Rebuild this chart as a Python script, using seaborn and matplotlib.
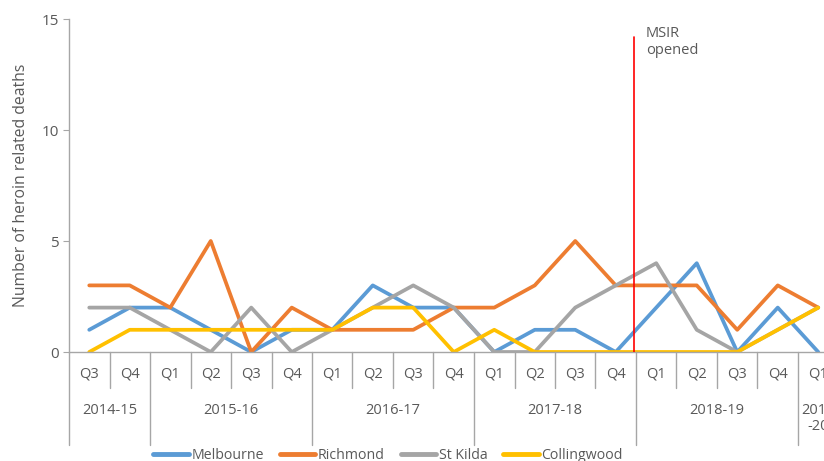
import numpy as np
import pandas as pd
import matplotlib
matplotlib.use("Agg")
import matplotlib.pyplot as plt
import matplotlib.transforms as mtransforms
import seaborn as sns

# quarters along the x axis, grouped by financial year
quarters = ["Q3", "Q4",
            "Q1", "Q2", "Q3", "Q4",
            "Q1", "Q2", "Q3", "Q4",
            "Q1", "Q2", "Q3", "Q4",
            "Q1", "Q2", "Q3", "Q4",
            "Q1"]
years = ["2014-15", "2015-16", "2016-17", "2017-18", "2018-19", "2019\n-20"]
year_sizes = [2, 4, 4, 4, 4, 1]

melbourne = [1, 2, 2, 1, 0, 1, 1, 3, 2, 2, 0, 1, 1, 0, 2, 4, 0, 2, 0]
richmond = [3, 3, 2, 5, 0, 2, 1, 1, 1, 2, 2, 3, 5, 3, 3, 3, 1, 3, 2]
st_kilda = [2, 2, 1, 0, 2, 0, 1, 2, 3, 2, 0, 0, 2, 3, 4, 1, 0, 1, 2]
collingwood = [0, 1, 1, 1, 1, 1, 1, 2, 2, 0, 1, 0, 0, 0, 0, 0, 0, 1, 2]

series = {"Melbourne": melbourne, "Richmond": richmond,
          "St Kilda": st_kilda, "Collingwood": collingwood}
colors = ["#5B9BD5", "#ED7D31", "#A5A5A5", "#FFC000"]

rows = []
for name, vals in series.items():
    for i, v in enumerate(vals):
        rows.append({"idx": i, "deaths": v, "suburb": name})
df = pd.DataFrame(rows)

sns.set_style("white")
plt.rcParams['font.family'] = ['Open Sans', 'DejaVu Sans']
txt = "#595959"
axc = "#A6A6A6"

fig = plt.figure(figsize=(8.24, 4.61), dpi=100)
ax = fig.add_axes([69 / 824, 1 - 352 / 461, (838.5 - 69) / 824, 333 / 461])

sns.lineplot(data=df, x="idx", y="deaths", hue="suburb", palette=colors,
             linewidth=2.7, ax=ax, legend=True)

n = len(quarters)
ax.set_xlim(-0.5, n - 0.5)
ax.set_ylim(0, 15)
ax.set_yticks([0, 5, 10, 15])
ax.tick_params(axis="y", colors=txt, labelsize=11, length=4, width=0.8,
               direction="out", left=True, color=axc)
ax.set_xticks([])
ax.set_xlabel("")
ax.set_ylabel("Number of heroin related deaths", color=txt, fontsize=11.3)
ax.yaxis.set_label_coords(-0.052, 0.5)
for s in ["top", "right"]:
    ax.spines[s].set_visible(False)
ax.spines["left"].set_color(axc)
ax.spines["bottom"].set_color(axc)
ax.spines["left"].set_linewidth(1)
ax.spines["bottom"].set_linewidth(1)

# MSIR opened marker
ax.plot([13.45, 13.45], [0, 14.2], color="#FF0000", linewidth=1.2, zorder=5)
ax.text(13.75, 14.7, "MSIR\nopened", color=txt, fontsize=10.5, va="top", ha="left")

# multi-level category axis
trans = mtransforms.blended_transform_factory(ax.transData, ax.transAxes)
for i, q in enumerate(quarters):
    ax.text(i, -0.065, q, transform=trans, ha="center", va="center",
            color=txt, fontsize=10.5, clip_on=False)

bounds = np.cumsum([0] + year_sizes) - 0.5
for k in range(n + 1):
    xb = k - 0.5
    if np.any(np.isclose(bounds, xb)):
        y_end = -0.28
    else:
        y_end = -0.108
    ax.plot([xb, xb], [0, y_end], transform=trans, color=axc, linewidth=1,
            clip_on=False)

for yr, lo, hi in zip(years, bounds[:-1], bounds[1:]):
    yy = -0.175 if "\n" not in yr else -0.2
    ax.text((lo + hi) / 2, yy, yr, transform=trans, ha="center", va="center",
            color=txt, fontsize=10.5, clip_on=False, linespacing=1.1)

handles, labels = ax.get_legend_handles_labels()
ax.get_legend().remove()
leg = fig.legend(handles, labels, loc="center", ncol=4, frameon=False,
                 bbox_to_anchor=(0.471, 0.013), fontsize=10.2, handlelength=2.5,
                 columnspacing=1.1, handletextpad=0.2)
for t in leg.get_texts():
    t.set_color(txt)
for h in leg.legend_handles:
    h.set_linewidth(3.5)

fig.savefig("out.png", dpi=100)
